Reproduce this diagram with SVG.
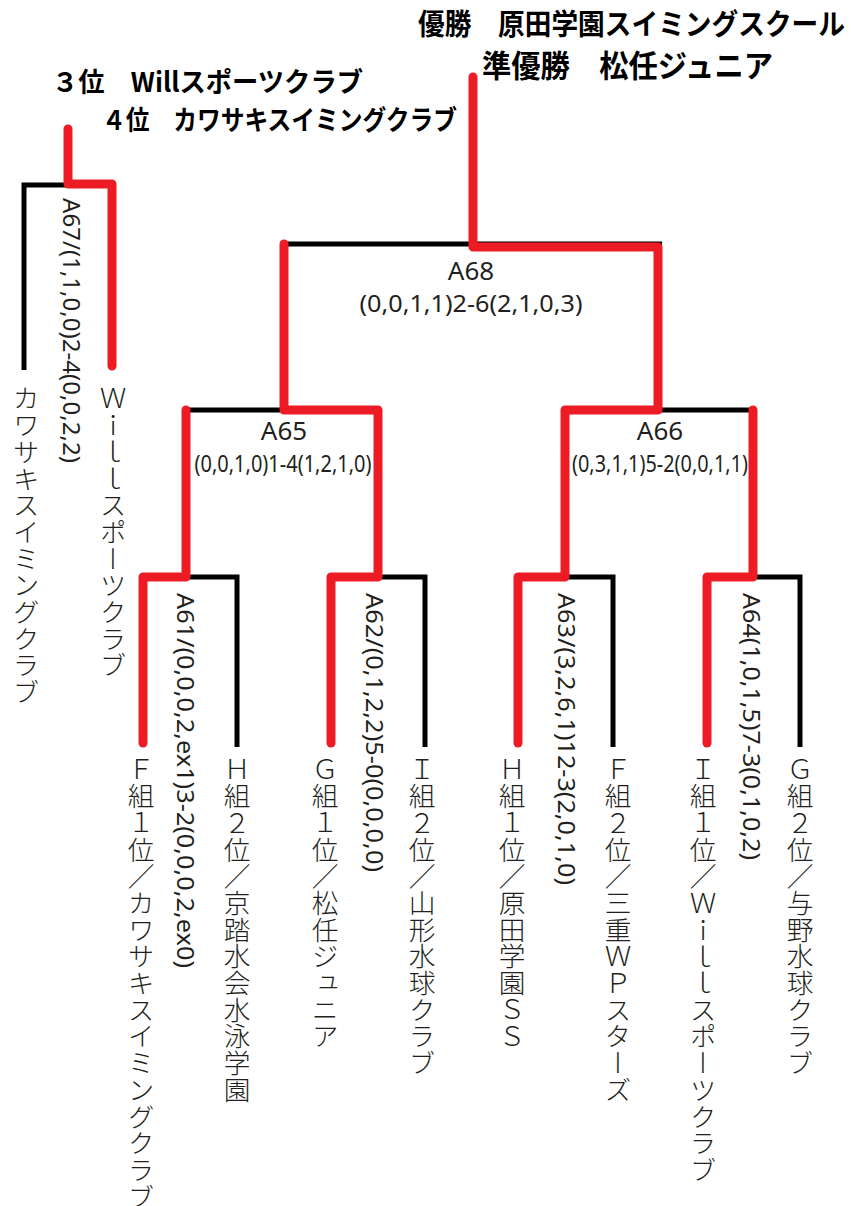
<svg xmlns="http://www.w3.org/2000/svg" width="851" height="1206" viewBox="0 0 851 1206">
<style>
.bk{fill:none;stroke:#000;stroke-width:5;stroke-linejoin:miter}
.rd{fill:none;stroke:#ed1c24;stroke-width:9;stroke-linecap:round;stroke-linejoin:round}
.ttl{font-family:"Noto Sans CJK JP","Noto Sans",sans-serif;font-weight:700;fill:#000}
.hd{font-family:"Noto Sans","Liberation Sans",sans-serif;fill:#231f20;text-anchor:middle}
.sc{font-family:"Noto Sans","Liberation Sans",sans-serif;fill:#231f20;font-size:24px}
.tm{font-family:"Noto Sans CJK JP",sans-serif;font-weight:300;fill:#231f20;font-size:26.7px;writing-mode:vertical-rl}
</style>
<rect width="851" height="1206" fill="#fff"/>
<g id="titles">
<text class="ttl" x="418" y="35" font-size="29" textLength="427" lengthAdjust="spacingAndGlyphs">優勝　原田学園スイミングスクール</text>
<text class="ttl" x="482" y="77" font-size="31" textLength="291" lengthAdjust="spacingAndGlyphs">準優勝　松任ジュニア</text>
<text class="ttl" x="52" y="92" font-size="27" textLength="311" lengthAdjust="spacingAndGlyphs">３位　Willスポーツクラブ</text>
<text class="ttl" x="102" y="130" font-size="27" textLength="355" lengthAdjust="spacingAndGlyphs">４位　カワサキスイミングクラブ</text>
</g>
<g id="connectors">
<path class="bk" d="M24,370 V185 H112"/>
<path class="bk" d="M284,410 V244 H662"/>
<path class="bk" d="M186,577 V410 H378"/>
<path class="bk" d="M565,577 V410 H753"/>
<path class="bk" d="M143,747 V577 H237 V747"/>
<path class="bk" d="M331,747 V577 H425 V747"/>
<path class="bk" d="M518,747 V577 H613 V747"/>
<path class="bk" d="M707,747 V577 H800 V747"/>
<path class="rd" d="M473,77 V247 H658 V410 H565 V577 H518 V743"/>
<path class="rd" d="M284,244 V410 H378 V577 H331 V743"/>
<path class="rd" d="M186,410 V577 H143 V743"/>
<path class="rd" d="M753,410 V577 H707 V743"/>
<path class="rd" d="M68,129 V184 H112 V366"/>
</g>
<g id="A68">
<text class="hd" x="471" y="280" font-size="26">A68</text>
<text class="hd" x="471" y="312" font-size="24" textLength="223" lengthAdjust="spacingAndGlyphs">(0,0,1,1)2-6(2,1,0,3)</text>
</g>
<g id="A65">
<text class="hd" x="284" y="440" font-size="26">A65</text>
<text class="hd" x="283" y="472" font-size="24" textLength="177" lengthAdjust="spacingAndGlyphs">(0,0,1,0)1-4(1,2,1,0)</text>
</g>
<g id="A66">
<text class="hd" x="660" y="440" font-size="26">A66</text>
<text class="hd" x="660" y="472" font-size="24" textLength="176" lengthAdjust="spacingAndGlyphs">(0,3,1,1)5-2(0,0,1,1)</text>
</g>
<g id="A67">
<text class="sc" transform="translate(72,198) rotate(90)" x="0" y="8.6" textLength="265" lengthAdjust="spacingAndGlyphs">A67/(1,1,0,0)2-4(0,0,2,2)</text>
</g>
<g id="A61">
<text class="sc" transform="translate(186,593) rotate(90)" x="0" y="8.6" textLength="375" lengthAdjust="spacingAndGlyphs">A61/(0,0,0,2,ex1)3-2(0,0,0,2,ex0)</text>
</g>
<g id="A62">
<text class="sc" transform="translate(375,593) rotate(90)" x="0" y="8.6" textLength="279" lengthAdjust="spacingAndGlyphs">A62/(0,1,2,2)5-0(0,0,0,0)</text>
</g>
<g id="A63">
<text class="sc" transform="translate(567,593) rotate(90)" x="0" y="8.6" textLength="292" lengthAdjust="spacingAndGlyphs">A63/(3,2,6,1)12-3(2,0,1,0)</text>
</g>
<g id="A64">
<text class="sc" transform="translate(752,593) rotate(90)" x="0" y="8.6" textLength="267" lengthAdjust="spacingAndGlyphs">A64(1,0,1,5)7-3(0,1,0,2)</text>
</g>
<g id="team-kawasaki-top"><text class="tm" x="26" y="385">カワサキスイミングクラブ</text></g>
<g id="team-will-top"><text class="tm" x="113" y="385">Ｗｉｌｌスポーツクラブ</text></g>
<g id="team-F1"><text class="tm" x="141" y="756">Ｆ組１位／カワサキスイミングクラブ</text></g>
<g id="team-H2"><text class="tm" x="237" y="756">Ｈ組２位／京踏水会水泳学園</text></g>
<g id="team-G1"><text class="tm" x="325" y="756">Ｇ組１位／松任ジュニア</text></g>
<g id="team-I2"><text class="tm" x="422" y="756">Ｉ組２位／山形水球クラブ</text></g>
<g id="team-H1"><text class="tm" x="512" y="756">Ｈ組１位／原田学園ＳＳ</text></g>
<g id="team-F2"><text class="tm" x="618" y="756">Ｆ組２位／三重ＷＰスターズ</text></g>
<g id="team-I1"><text class="tm" x="703" y="756">Ｉ組１位／Ｗｉｌｌスポーツクラブ</text></g>
<g id="team-G2"><text class="tm" x="800" y="756">Ｇ組２位／与野水球クラブ</text></g>
</svg>
